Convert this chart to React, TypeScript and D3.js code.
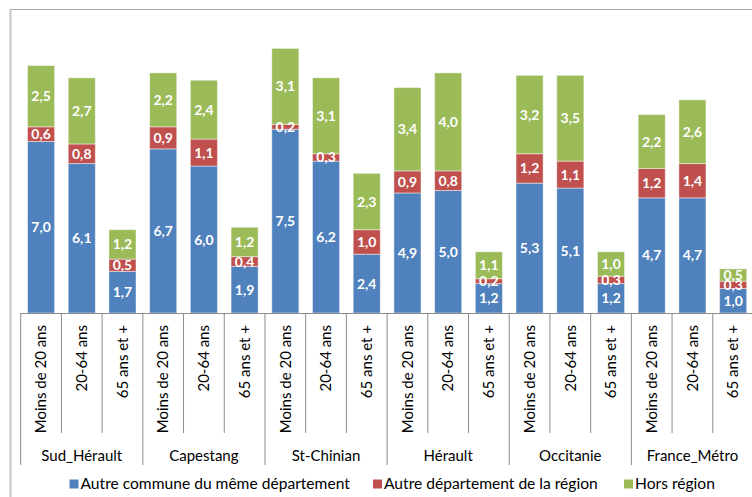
import React from "react";
import * as d3 from "d3";

// Territories and age bands
const territories = ["Sud_Hérault", "Capestang", "St-Chinian", "Hérault", "Occitanie", "France_Métro"];
const ageBands = ["Moins de 20 ans", "20-64 ans", "65 ans et +"];

// Values per territory, in age-band order
const sameDepartment = [
  [7.0, 6.1, 1.7],
  [6.7, 6.0, 1.9],
  [7.5, 6.2, 2.4],
  [4.9, 5.0, 1.2],
  [5.3, 5.1, 1.2],
  [4.7, 4.7, 1.0],
];
const otherDepartment = [
  [0.6, 0.8, 0.5],
  [0.9, 1.1, 0.4],
  [0.2, 0.3, 1.0],
  [0.9, 0.8, 0.2],
  [1.2, 1.1, 0.3],
  [1.2, 1.4, 0.3],
];
const outsideRegion = [
  [2.5, 2.7, 1.2],
  [2.2, 2.4, 1.2],
  [3.1, 3.1, 2.3],
  [3.4, 4.0, 1.1],
  [3.2, 3.5, 1.0],
  [2.2, 2.6, 0.5],
];

const seriesNames = [
  "Autre commune du même département",
  "Autre département de la région",
  "Hors région",
];
const seriesColors = ["#4F81BD", "#C0504D", "#9BBB59"];

const W = 752;
const H = 497;
const FONT = "Lato, 'Open Sans', sans-serif";

export default function App() {
  const rows = territories.flatMap((t, ti) =>
    ageBands.map((a, ai) => ({
      key: `${t}|${a}`,
      territory: t,
      age: a,
      ti,
      values: [sameDepartment[ti][ai], otherDepartment[ti][ai], outsideRegion[ti][ai]],
    }))
  );

  const baseY = 313;
  const x = d3
    .scaleBand<string>()
    .domain(rows.map((r) => r.key))
    .range([20.7, 753.5])
    .paddingInner(0.335)
    .paddingOuter(0.1675);
  const y = d3.scaleLinear().domain([0, 12]).range([baseY, 19]);

  const stack = d3
    .stack<any, number>()
    .keys([0, 1, 2])
    .value((d, k) => d.values[k]);
  const stacked = stack(rows);

  const step = x.step();
  const bandStart = (key: string) => x(key)! - x.paddingInner() * step / 2;

  const groupEdges = territories.map((_, ti) => bandStart(rows[ti * 3].key));
  groupEdges.push(bandStart(rows[rows.length - 1].key) + step);

  const fmt = (v: number) => v.toFixed(1).replace(".", ",");

  // legend swatch positions
  const legendX = [69.5, 373, 624];

  return (
    <svg
      width={W}
      height={H}
      style={{ position: "absolute", left: 0, top: 0, background: "#fff" }}
      fontFamily={FONT}
    >
      {/* chart frame */}
      <line x1={10} x2={W} y1={9.5} y2={9.5} stroke="#a6a6a6" strokeWidth={1} />
      <line x1={10.5} x2={10.5} y1={9} y2={H} stroke="#c8c8c8" strokeWidth={2} />

      {/* stacked bars */}
      {stacked.map((layer, si) => (
        <g key={si}>
          {layer.map((seg, i) => {
            const r = rows[i];
            return (
              <rect
                key={r.key}
                x={x(r.key)!}
                y={y(seg[1])}
                width={x.bandwidth()}
                height={y(seg[0]) - y(seg[1])}
                fill={seriesColors[si]}
                stroke="#ffffff"
                strokeOpacity={0.45}
                strokeWidth={1}
              />
            );
          })}
        </g>
      ))}

      {/* value labels */}
      {stacked.map((layer, si) => (
        <g key={`l${si}`}>
          {layer.map((seg, i) => {
            const r = rows[i];
            const cx = x(r.key)! + x.bandwidth() / 2;
            const cy = (y(seg[0]) + y(seg[1])) / 2;
            return (
              <text
                key={r.key}
                x={cx}
                y={cy}
                dy="0.36em"
                textAnchor="middle"
                fill="#ffffff"
                fontWeight="bold"
                fontSize={14}
              >
                {fmt(r.values[si])}
              </text>
            );
          })}
        </g>
      ))}

      {/* category axis */}
      <line x1={groupEdges[0]} x2={W} y1={baseY + 0.5} y2={baseY + 0.5} stroke="#8c8c8c" />
      {rows.map((r, i) => {
        const left = bandStart(r.key);
        const isGroupEdge = i % 3 === 0;
        return (
          <line
            key={`t${r.key}`}
            x1={left}
            x2={left}
            y1={baseY}
            y2={isGroupEdge ? 465 : 433}
            stroke="#8c8c8c"
          />
        );
      })}
      {rows.map((r) => {
        const cx = x(r.key)! + x.bandwidth() / 2;
        return (
          <text
            key={`a${r.key}`}
            transform={`translate(${cx},325) rotate(-90)`}
            textAnchor="end"
            dy="0.35em"
            fontSize={15}
            fill="#000"
          >
            {r.age}
          </text>
        );
      })}
      {territories.map((t, ti) => (
        <text
          key={t}
          x={(groupEdges[ti] + groupEdges[ti + 1]) / 2}
          y={461}
          textAnchor="middle"
          fontSize={15}
          fill="#000"
        >
          {t}
        </text>
      ))}

      {/* legend */}
      {seriesNames.map((name, si) => (
        <g key={name} transform={`translate(${legendX[si]},479.5)`}>
          <rect width={9} height={9} fill={seriesColors[si]} />
          <text x={11} y={9.5} fontSize={15.6} fill="#000">
            {name}
          </text>
        </g>
      ))}
    </svg>
  );
}
